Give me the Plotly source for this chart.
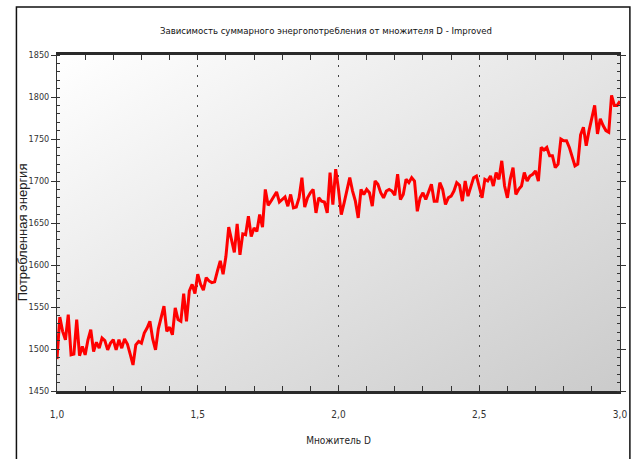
import base64
import numpy as np
import plotly.graph_objects as go

# ---- data ----
D_MIN, D_MAX, D_STEP = 1.0, 3.0, 0.01

energy_100_134 = [1488, 1538, 1521, 1511, 1541, 1493, 1494, 1535, 1492, 1503,
                  1493, 1511, 1523, 1497, 1508, 1501, 1513, 1510, 1499, 1507,
                  1511, 1499, 1511, 1501, 1512, 1506, 1494, 1481, 1505, 1509,
                  1507, 1519, 1525, 1533, 1512]
energy_135_167 = [1499, 1524, 1537, 1551, 1521, 1526, 1517, 1549, 1535, 1533,
                  1566, 1533, 1569, 1577, 1566, 1589, 1577, 1570, 1585, 1581,
                  1579, 1580, 1593, 1605, 1589, 1610, 1645, 1629, 1615, 1649,
                  1612, 1637, 1636]
energy_168_200 = [1658, 1634, 1644, 1640, 1660, 1645, 1690, 1671, 1676, 1682,
                  1687, 1675, 1678, 1681, 1670, 1684, 1668, 1669, 1680, 1704,
                  1669, 1680, 1686, 1690, 1662, 1680, 1676, 1675, 1662, 1710,
                  1672, 1714, 1690]
energy_201_233 = [1660, 1674, 1690, 1704, 1688, 1676, 1656, 1690, 1684, 1690,
                  1686, 1670, 1700, 1696, 1686, 1680, 1688, 1690, 1688, 1683,
                  1708, 1678, 1684, 1702, 1698, 1704, 1700, 1664, 1680, 1686,
                  1678, 1686, 1696]
energy_234_266 = [1676, 1676, 1698, 1690, 1672, 1680, 1682, 1688, 1698, 1695,
                  1676, 1700, 1682, 1694, 1704, 1706, 1692, 1680, 1702, 1700,
                  1706, 1694, 1710, 1702, 1724, 1694, 1680, 1702, 1716, 1684,
                  1690, 1694, 1710]
energy_267_300 = [1700, 1706, 1708, 1712, 1700, 1740, 1737, 1740, 1730, 1730,
                  1716, 1720, 1750, 1748, 1748, 1740, 1730, 1718, 1720, 1755,
                  1764, 1742, 1760, 1774, 1790, 1756, 1774, 1766, 1760, 1758,
                  1802, 1790, 1790, 1795]

energy = (energy_100_134 + energy_135_167 + energy_168_200 +
          energy_201_233 + energy_234_266 + energy_267_300)
d_values = np.round(np.linspace(D_MIN, D_MAX, len(energy)), 2)

x_tickvals = [1.0, 1.5, 2.0, 2.5, 3.0]
x_ticktext = ["1,0", "1,5", "2,0", "2,5", "3,0"]
y_tickvals = [1450, 1500, 1550, 1600, 1650, 1700, 1750, 1800, 1850]

TITLE = "Зависимость суммарного энергопотребления от множителя D - Improved"
X_TITLE = "Множитель D"
Y_TITLE = "Потребленная энергия"

# ---- styling ----
W, H = 639, 459
L, R, T, B = 57, 13, 55, 68
PW, PH = W - L - R, H - T - B
NARROW = "DejaVu Sans Condensed, DejaVu Sans, sans-serif"

svg = ('<svg xmlns="http://www.w3.org/2000/svg" width="200" height="200" '
       'preserveAspectRatio="none"><defs><linearGradient id="g" x1="0" y1="0" '
       'x2="1" y2="1"><stop offset="0" stop-color="#ffffff"/>'
       '<stop offset="1" stop-color="#cbcbcb"/></linearGradient></defs>'
       '<rect width="200" height="200" fill="url(#g)"/></svg>')
bg_src = "data:image/svg+xml;base64," + base64.b64encode(svg.encode()).decode()

fig = go.Figure()
fig.add_trace(go.Scatter(
    x=d_values, y=energy, mode="lines",
    line=dict(color="#ff0000", width=3),
    showlegend=False, hoverinfo="x+y",
))

fig.update_layout(
    width=W, height=H,
    margin=dict(l=L, r=R, t=T, b=B, pad=0),
    paper_bgcolor="white",
    plot_bgcolor="rgba(0,0,0,0)",
    separators=", ",
    title=dict(text=TITLE, x=(16 + 636) / 2 / W, xanchor="center",
               y=1 - 31 / H, yanchor="middle",
               font=dict(family=NARROW, size=9.5, color="#111")),
    images=[dict(source=bg_src, xref="paper", yref="paper", x=0, y=1,
                 sizex=1, sizey=1, sizing="stretch", xanchor="left",
                 yanchor="top", layer="below")],
    shapes=[dict(type="rect", xref="paper", yref="paper",
                 x0=(16 - L) / PW, x1=(636 - L) / PW,
                 y0=(H - T - 480) / PH, y1=(H - T - B + (T - 7)) / PH,
                 line=dict(color="#111", width=1.5), fillcolor="rgba(0,0,0,0)",
                 layer="above")],
    annotations=[dict(text=Y_TITLE, xref="paper", yref="paper",
                      x=(22 - L) / PW, y=(H - B - 232) / PH,
                      xanchor="center", yanchor="middle", textangle=-90,
                      showarrow=False,
                      font=dict(family="Liberation Sans, Arial, sans-serif",
                                size=13, color="#222"))],
)

fig.update_xaxes(
    range=[D_MIN, D_MAX],
    tickvals=x_tickvals, ticktext=x_ticktext,
    ticks="inside", ticklen=5, tickwidth=1, tickcolor="#333",
    minor=dict(dtick=0.1, ticks="inside", ticklen=5, tickcolor="#333", showgrid=False),
    showline=True, linewidth=2.5, linecolor="#2a2a2a", mirror="ticks",
    showgrid=True, gridcolor="#444", gridwidth=1, griddash="2px,8px",
    zeroline=False,
    tickfont=dict(family=NARROW, size=10, color="#333"),
    ticklabelstandoff=12,
    title=dict(text=X_TITLE, font=dict(family=NARROW, size=10, color="#222"),
               standoff=19),
)
fig.update_yaxes(
    range=[1450, 1850],
    tickvals=y_tickvals,
    ticks="outside", ticklen=5, tickwidth=1, tickcolor="#333",
    minor=dict(dtick=10, ticks="inside", ticklen=3, tickcolor="#333", showgrid=False),
    showline=True, linewidth=1, linecolor="#333", mirror="ticks",
    showgrid=False, zeroline=False,
    tickfont=dict(family=NARROW, size=9, color="#333"),
)

fig.write_html("out.html")
